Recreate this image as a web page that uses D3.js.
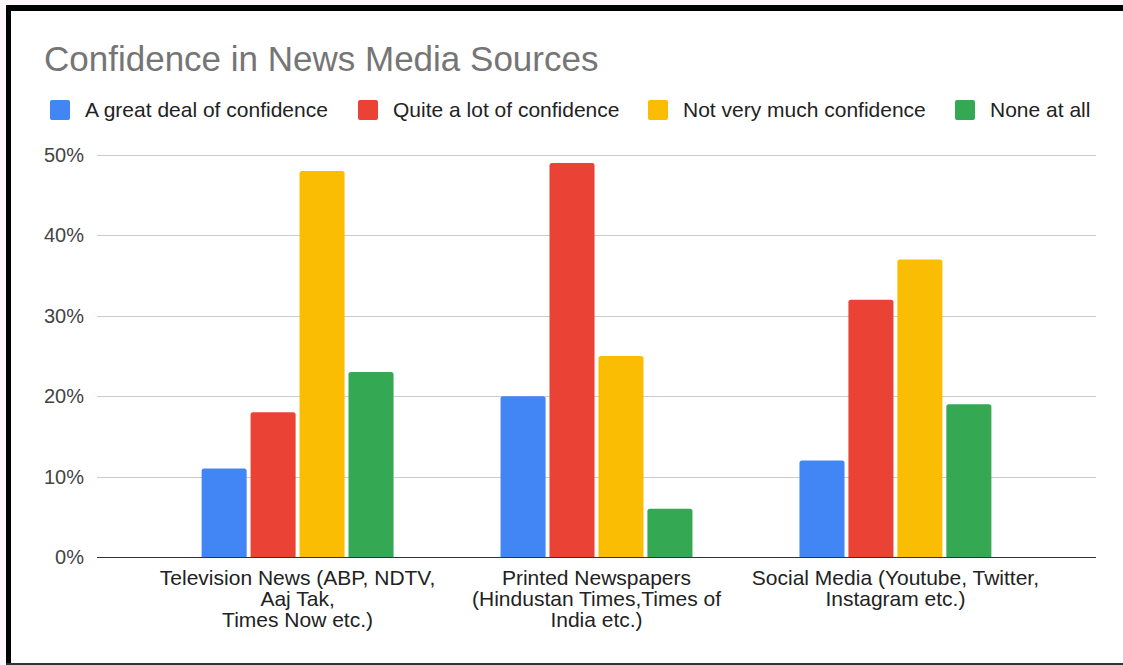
<!DOCTYPE html>
<html>
<head>
<meta charset="utf-8">
<script src="https://cdn.jsdelivr.net/npm/d3@7"></script>
<style>
  html, body { margin: 0; padding: 0; background: #fdf6fd; }
  svg { display: block; }
  text { font-family: Arial, "Liberation Sans", sans-serif; }
</style>
</head>
<body>
<svg id="chart" width="1123" height="665"></svg>
<script>
const title = "Confidence in News Media Sources";
const categories = ["Television News", "Printed Newspapers", "Social Media"];
const categoryLabels = [
  ["Television News (ABP, NDTV,", "Aaj Tak,", "Times Now etc.)"],
  ["Printed Newspapers", "(Hindustan Times,Times of", "India etc.)"],
  ["Social Media (Youtube, Twitter,", "Instagram etc.)"]
];
const seriesNames = ["A great deal of confidence", "Quite a lot of confidence", "Not very much confidence", "None at all"];
const seriesColors = ["#4285f4", "#ea4335", "#fbbc04", "#34a853"];
const greatDeal = [0.11, 0.20, 0.12];
const quiteALot = [0.18, 0.49, 0.32];
const notVeryMuch = [0.48, 0.25, 0.37];
const noneAtAll = [0.23, 0.06, 0.19];
const yTicks = [0, 0.1, 0.2, 0.3, 0.4, 0.5];

const seriesValues = [greatDeal, quiteALot, notVeryMuch, noneAtAll];

(function () {
const svg = d3.select("#chart");
const W = 1123, H = 665;

// frame
svg.append("rect").attr("x", 6).attr("y", 5).attr("width", W - 6).attr("height", H - 7).attr("fill", "#ffffff");
svg.append("rect").attr("x", 6).attr("y", 5).attr("width", W - 6).attr("height", 6).attr("fill", "#000");
svg.append("rect").attr("x", 6).attr("y", 5).attr("width", 5).attr("height", H - 5).attr("fill", "#000");
svg.append("rect").attr("x", 6).attr("y", 663).attr("width", W - 6).attr("height", 2).attr("fill", "#333");

const pL = 97, pR = 1096, pT = 155, pB = 557;

const y = d3.scaleLinear().domain([0, 0.5]).range([pB, pT]);
const x0 = d3.scaleBand().domain(categories).range([pL, pR]).paddingInner(0.358).paddingOuter(0.35);
const x1 = d3.scaleBand().domain(seriesNames).range([0, x0.bandwidth()]).paddingInner(0.08);

// title
svg.append("text").attr("x", 44).attr("y", 71).attr("fill", "#757575")
  .style("font-size", "35px").text(title);

// legend
const legendX = [50, 358, 648, 955];
const lg = svg.append("g");
seriesNames.forEach((s, i) => {
  lg.append("rect").attr("x", legendX[i]).attr("y", 100).attr("width", 20).attr("height", 20)
    .attr("rx", 2).attr("fill", seriesColors[i]);
  lg.append("text").attr("x", legendX[i] + 35).attr("y", 117).attr("fill", "#222")
    .style("font-size", "21px").text(s);
});

// grid
const grid = svg.append("g");
yTicks.forEach(t => {
  grid.append("line").attr("x1", pL).attr("x2", pR)
    .attr("y1", Math.round(y(t)) + 0.5).attr("y2", Math.round(y(t)) + 0.5)
    .attr("stroke", t === 0 ? "#333" : "#cccccc").attr("stroke-width", 1);
});

// y axis labels
const yAxis = d3.axisLeft(y).tickValues(yTicks).tickFormat(d3.format(".0%")).tickSize(0).tickPadding(13);
const ya = svg.append("g").attr("transform", `translate(${pL},0)`).call(yAxis);
ya.select(".domain").remove();
ya.selectAll("text").style("font-size", "20px").attr("fill", "#444").style("font-family", "Arial, 'Liberation Sans', sans-serif");

// bars
function topRounded(x, yTop, w, h, r) {
  r = Math.min(r, h, w / 2);
  return `M${x},${yTop + h}V${yTop + r}Q${x},${yTop} ${x + r},${yTop}H${x + w - r}Q${x + w},${yTop} ${x + w},${yTop + r}V${yTop + h}Z`;
}
const bars = svg.append("g");
categories.forEach((c, ci) => {
  seriesNames.forEach((s, si) => {
    const v = seriesValues[si][ci];
    const bx = x0(c) + x1(s);
    const by = y(v);
    bars.append("path").attr("d", topRounded(bx, by, x1.bandwidth(), pB - by, 2.5))
      .attr("fill", seriesColors[si]);
  });
});
svg.append("line").attr("x1", pL).attr("x2", pR)
  .attr("y1", Math.round(y(0)) + 0.5).attr("y2", Math.round(y(0)) + 0.5)
  .attr("stroke", "#333").attr("stroke-width", 1);

// x labels
const xl = svg.append("g");
categories.forEach((c, ci) => {
  const cx = x0(c) + x0.bandwidth() / 2;
  categoryLabels[ci].forEach((line, li) => {
    xl.append("text").attr("x", cx).attr("y", 585 + li * 21).attr("text-anchor", "middle")
      .attr("fill", "#222").style("font-size", "21px").text(line);
  });
});
})();
</script>
</body>
</html>
